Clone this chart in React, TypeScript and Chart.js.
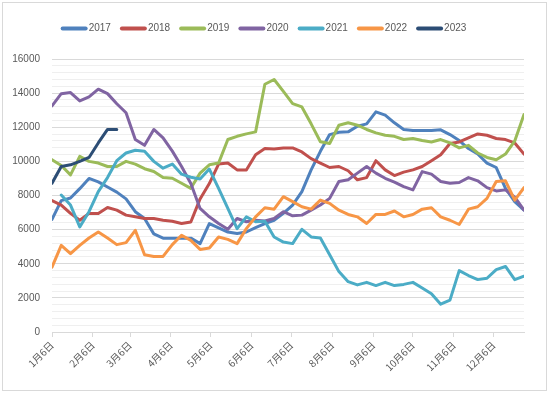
import React, { useEffect, useRef } from 'react';
import { Chart, registerables } from 'chart.js';

Chart.register(...registerables);

// Week-by-week values (weekly points starting 1月6日)
const v2017 = [6600, 7700, 7850, 8400, 9000, 8800, 8500, 8200, 7800, 7050, 6650, 5750, 5500,
  5500, 5500, 5500, 5180, 6350, 6100, 5860, 5770, 5860, 6120, 6350, 6550, 6950,
  7440, 8230, 9500, 10590, 11570, 11710, 11730, 12060, 12200, 12900, 12710, 12260, 11870,
  11810, 11810, 11810, 11850, 11570, 11220, 10750, 10430, 9900, 9640, 8420, 7640, 7140];
const v2018 = [7700, 7440, 6950, 6550, 6950, 6950, 7300, 7140, 6850, 6750, 6650, 6650, 6550,
  6490, 6360, 6450, 7800, 8700, 9840, 9900, 9500, 9500, 10390, 10750, 10730, 10790,
  10790, 10550, 10160, 9900, 9640, 9700, 9450, 8920, 9050, 10040, 9500, 9170, 9370,
  9500, 9700, 10040, 10390, 11050, 11140, 11380, 11610, 11530, 11340, 11280, 11080, 10430];
const v2019 = [10100, 9760, 9210, 10290, 10000, 9900, 9700, 9700, 10000, 9840, 9570, 9410, 9050,
  9010, 8720, 8420, 9310, 9800, 9900, 11280, 11470, 11610, 11730, 14520, 14800, 14100,
  13380, 13190, 12200, 11150, 11050, 12120, 12260, 12120, 11870, 11670, 11530, 11470, 11280,
  11340, 11220, 11140, 11280, 11080, 10790, 10940, 10490, 10230, 10100, 10430, 11200, 12750];
const v2020 = [13250, 13970, 14030, 13540, 13780, 14230, 13970, 13380, 12850, 11280, 10940, 11870, 11380,
  10600, 9700, 8700, 7240, 6750, 6360, 6020, 6650, 6460, 6550, 6510, 6650, 7050,
  6810, 6850, 7140, 7440, 7830, 8820, 8920, 9310, 9700, 9310, 9010, 8780, 8520,
  8330, 9400, 9250, 8820, 8720, 8760, 9050, 8860, 8460, 8270, 8330, 7900, 7150];
const v2021 = [null, 8030, 7440, 6160, 7050, 8230, 9050, 10040, 10490, 10650, 10590, 10000, 9600,
  9840, 9250, 9070, 8970, 9550, 8420, 7240, 6060, 6750, 6460, 6490, 5570, 5270,
  5180, 6020, 5570, 5510, 4530, 3540, 2950, 2760, 2910, 2720, 2910, 2720, 2790,
  2910, 2580, 2240, 1630, 1870, 3600, 3310, 3070, 3150, 3660, 3840, 3070, 3270];
const v2022 = [3800, 5080, 4590, 5080, 5510, 5860, 5510, 5120, 5240, 5960, 4530, 4430, 4430,
  5120, 5670, 5370, 4840, 4920, 5570, 5430, 5180, 6060, 6750, 7280, 7200, 7930,
  7640, 7340, 7200, 7730, 7540, 7140, 6890, 6750, 6360, 6890, 6890, 7090, 6750,
  6890, 7200, 7280, 6750, 6550, 6300, 7200, 7340, 7830, 8820, 8860, 7730, 8460];
const v2023 = [8720, 9700, 9800, 10000, 10230, 11080, 11870, 11870];

const seriesLabels = ['2017', '2018', '2019', '2020', '2021', '2022', '2023'];
const seriesValues = [v2017, v2018, v2019, v2020, v2021, v2022, v2023];
const seriesColors = ['#4F81BD', '#C0504D', '#9BBB59', '#8064A2', '#4BACC6', '#F79646', '#2C4D75'];

// x-axis: day offset from 1月6日; tick labels on the 6th of each month
const monthTickDays = [0, 31, 59, 90, 120, 151, 181, 212, 243, 273, 304, 334];
const monthTickLabels = ['1月6日', '2月6日', '3月6日', '4月6日', '5月6日', '6月6日', '7月6日', '8月6日', '9月6日', '10月6日', '11月6日', '12月6日'];
const daysPerWeek = 7;
const xMaxDay = 357;

const legendPlugin = {
  id: 'customLegend',
  afterDraw(chart: any) {
    const ctx = chart.ctx;
    ctx.save();
    ctx.font = '10px "Liberation Sans", Arial, sans-serif';
    ctx.textBaseline = 'middle';
    const lineLen = 25;
    const gap = 2;
    const spacing = 10;
    const items = chart.data.datasets.map((ds: any) => ({
      label: ds.label,
      color: ds.borderColor,
      w: lineLen + gap + ctx.measureText(ds.label).width,
    }));
    const total = items.reduce((s: number, it: any) => s + it.w, 0) + spacing * (items.length - 1);
    let x = 264 - total / 2;
    const y = 28.5;
    for (const it of items) {
      ctx.strokeStyle = it.color;
      ctx.lineWidth = 4;
      ctx.lineCap = 'round';
      ctx.beginPath();
      ctx.moveTo(x + 1, y);
      ctx.lineTo(x + lineLen - 1, y);
      ctx.stroke();
      ctx.fillStyle = '#595959';
      ctx.fillText(it.label, x + lineLen + gap, y);
      x += it.w + spacing;
    }
    ctx.restore();
  },
};

export default function App() {
  const canvasRef = useRef<HTMLCanvasElement | null>(null);

  useEffect(() => {
    if (!canvasRef.current) return;
    const datasets = seriesLabels.map((label, idx) => ({
      label,
      data: seriesValues[idx].map((v, i) => ({ x: i * daysPerWeek, y: v })),
      borderColor: seriesColors[idx],
      backgroundColor: seriesColors[idx],
      borderWidth: 3,
      pointRadius: 0,
      tension: 0,
      borderJoinStyle: 'round' as const,
      borderCapStyle: 'round' as const,
      spanGaps: false,
      order: seriesLabels.length - 1 - idx,
    }));

    const chart = new Chart(canvasRef.current, {
      type: 'line',
      data: { datasets },
      plugins: [legendPlugin],
      options: {
        responsive: false,
        animation: false,
        devicePixelRatio: 1,
        layout: { padding: { top: 59, right: 26, left: 0, bottom: 0 } },
        plugins: {
          legend: { display: false },
          tooltip: { enabled: false },
        },
        scales: {
          x: {
            type: 'linear',
            min: 0,
            max: xMaxDay,
            afterBuildTicks: (scale: any) => {
              scale.ticks = monthTickDays.map((d) => ({ value: d }));
            },
            afterFit: (scale: any) => {
              scale.height = 62;
            },
            ticks: {
              autoSkip: false,
              maxRotation: 45,
              minRotation: 45,
              padding: 2,
              color: '#595959',
              font: { family: '"Noto Sans CJK SC", sans-serif', size: 10 },
              callback: (_v: any, index: number) => monthTickLabels[index],
            },
            grid: {
              display: true,
              drawOnChartArea: false,
              drawTicks: true,
              tickLength: 5,
              color: '#d9d9d9',
            },
            border: { display: true, color: '#d9d9d9' },
          },
          y: {
            min: 0,
            max: 16000,
            afterFit: (scale: any) => {
              scale.width = 52;
            },
            ticks: {
              stepSize: 400,
              autoSkip: false,
              padding: 12,
              color: '#595959',
              font: { family: '"Liberation Sans", Arial, sans-serif', size: 10 },
              callback: (v: any) => (Number(v) % 2000 === 0 ? String(v) : ''),
            },
            grid: {
              drawTicks: false,
              color: (ctx: any) => (ctx.tick && ctx.tick.value % 2000 === 0 ? '#d9d9d9' : '#efefef'),
              lineWidth: 1,
            },
            border: { display: false },
          },
        },
      },
    });
    return () => chart.destroy();
  }, []);

  return (
    <div style={{ position: 'fixed', left: 0, top: 0, width: 550, height: 394, background: '#fff' }}>
      <canvas ref={canvasRef} width={550} height={394} style={{ position: 'absolute', left: 0, top: 0 }} />
      <div
        style={{
          position: 'absolute',
          left: 2,
          top: 2,
          width: 545,
          height: 389,
          border: '1px solid #d9d9d9',
          boxSizing: 'border-box',
          pointerEvents: 'none',
        }}
      />
    </div>
  );
}
